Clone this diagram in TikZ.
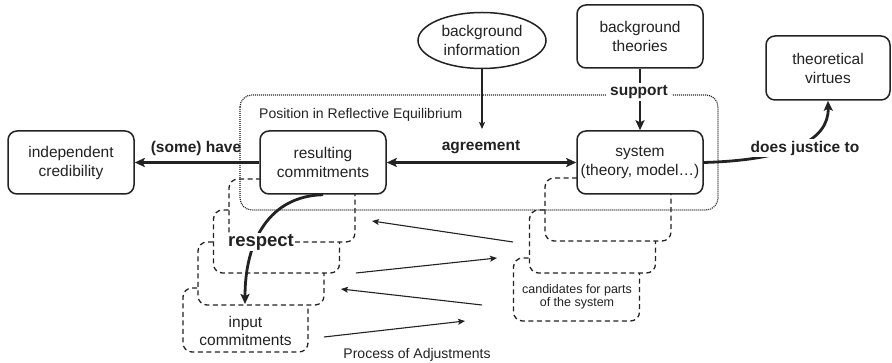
\documentclass[tikz,border=0pt]{standalone}
\usepackage{fontspec}
\setmainfont{Liberation Sans}
\usetikzlibrary{arrows.meta,shapes.geometric}
\definecolor{ink}{RGB}{34,34,34}
\begin{document}
\begin{tikzpicture}[x=1pt,y=-1pt,
  every node/.style={text=ink},
  box/.style={draw=ink, line width=1.5pt, rounded corners=9pt, fill=white,
    minimum width=126pt, minimum height=63pt, align=center,
    font=\fontsize{15.5}{19}\selectfont, inner sep=0pt},
  dbox/.style={draw=ink, line width=1.3pt, dash pattern=on 5pt off 3.5pt,
    rounded corners=9pt, fill=white, minimum width=126pt, minimum height=63pt, inner sep=0pt},
  boxtext/.style={align=center, inner sep=0pt},
  bigarrow/.style={draw=ink, line width=2.8pt, -{Stealth[length=10pt,width=9pt,inset=2pt]}},
  smallarrow/.style={draw=ink, line width=1.1pt, -{Stealth[length=7pt,width=6pt,inset=1.5pt]}},
  lbl/.style={font=\bfseries\fontsize{15.5}{19}\selectfont, inner sep=2pt},
  note/.style={font=\fontsize{14}{17}\selectfont, inner sep=0pt},
]
\useasboundingbox (0,0) rectangle (892,363);

% left dashed stack (back to front)
\node[dbox, minimum width=125pt, minimum height=64pt] (lb4) at (245.5,320) {};
\node[boxtext, font=\fontsize{15.5}{18}\selectfont] (inputc) at (245.5,331) {input\\commitments};
\node[dbox] (lb3) at (261,273.5) {};
\node[dbox] (lb2) at (276.5,241.5) {};
\node[dbox] (lb1) at (292,210.5) {};

% right dashed stack (back to front)
\node[dbox] (rb3) at (576.5,289.5) {};
\node[boxtext, font=\fontsize{12.5}{13.5}\selectfont] (cand) at (577,297) {candidates for parts\\of the system};
\node[dbox] (rb2) at (592.5,241.5) {};
\node[dbox] (rb1) at (608,209.5) {};

% solid boxes
\node[box] (indep) at (71,162.5) {independent\\credibility};
\node[box] (result) at (323,162.5) {resulting\\commitments};
\node[box] (system) at (640,162.5) {system\\(theory, model…)};
\node[box] (bgtheo) at (640,36.5) {background\\theories};
\node[box, minimum width=124pt, minimum height=64pt] (virtues) at (828,68) {theoretical\\virtues};
\node[draw=ink, line width=1.5pt, ellipse, minimum width=128pt, minimum height=56pt,
  inner sep=0pt, align=center, font=\fontsize{15.5}{19}\selectfont] (bginfo) at (482,40.5) {background\\information};

% position in reflective equilibrium
\draw[draw=ink, line width=1.2pt, dash pattern=on 1pt off 1pt, rounded corners=12pt]
  (240,95) rectangle (718,210);
\node[note, anchor=west] (pos) at (259,115) {Position in Reflective Equilibrium};

% main connectors
\draw[bigarrow] (result.west) -- (indep.east);
\node[lbl] (have) at (196,148) {(some) have};
\draw[bigarrow, {Stealth[length=10pt,width=9pt,inset=2pt]}-{Stealth[length=10pt,width=9pt,inset=2pt]}] (result.east) -- (system.west);
\node[lbl] (agree) at (481,147) {agreement};
\coordinate (infotip) at (482,129);
\draw[smallarrow] (bginfo.south) -- (infotip);
\draw[bigarrow] (bgtheo.south) -- (system.north);
\node[lbl, fill=white, inner xsep=4pt] (support) at (639,92) {support};
\draw[bigarrow] (system.east) .. controls (790,160) and (829,140) .. (virtues.south);
\node[lbl, fill=white] (justice) at (805,148) {does justice to};
\coordinate (rtip) at (245,304);
\draw[bigarrow] (result.south) .. controls (270,196) and (245,240) .. (rtip);
\node[lbl, fill=white, font=\bfseries\fontsize{18.5}{22}\selectfont, inner sep=1pt] (respect) at (261,242) {respect};

% process of adjustments
\coordinate (p1s) at (513,242); \coordinate (p1e) at (372,221);
\coordinate (p2s) at (356,273); \coordinate (p2e) at (497,258);
\coordinate (p3s) at (482,305); \coordinate (p3e) at (341,289);
\coordinate (p4s) at (324,337); \coordinate (p4e) at (465,321);
\draw[smallarrow] (p1s) -- (p1e);
\draw[smallarrow] (p2s) -- (p2e);
\draw[smallarrow] (p3s) -- (p3e);
\draw[smallarrow] (p4s) -- (p4e);
\node[note] (proc) at (417,355) {Process of Adjustments};
\end{tikzpicture}
\end{document}
